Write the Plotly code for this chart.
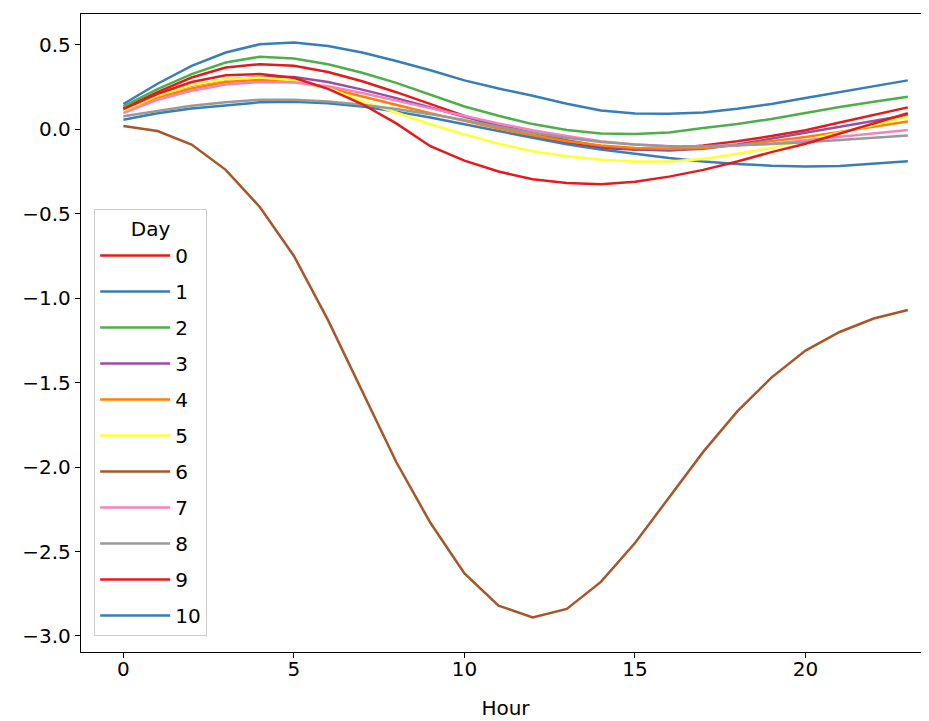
import pandas as pd
import plotly.express as plx

hours = list(range(24))

# mean deviation per hour, one list per day
day_0 = [0.124, 0.22, 0.307, 0.366, 0.386, 0.376, 0.34, 0.285, 0.22, 0.15, 0.08, 0.015,
         -0.04, -0.08, -0.11, -0.12, -0.115, -0.095, -0.07, -0.04, -0.005, 0.04, 0.087, 0.13]
day_1 = [0.057, 0.095, 0.124, 0.144, 0.16, 0.163, 0.155, 0.135, 0.105, 0.07, 0.032, -0.01,
         -0.05, -0.088, -0.12, -0.145, -0.17, -0.19, -0.205, -0.215, -0.22, -0.217, -0.205, -0.189]
day_2 = [0.136, 0.238, 0.327, 0.396, 0.43, 0.42, 0.385, 0.335, 0.275, 0.205, 0.135, 0.08,
         0.031, -0.004, -0.024, -0.028, -0.018, 0.008, 0.032, 0.061, 0.098, 0.132, 0.163, 0.193]
day_3 = [0.115, 0.205, 0.26, 0.295, 0.31, 0.31, 0.28, 0.235, 0.185, 0.13, 0.075, 0.025,
         -0.02, -0.065, -0.1, -0.12, -0.125, -0.115, -0.09, -0.055, -0.02, 0.015, 0.05, 0.085]
day_4 = [0.11, 0.19, 0.242, 0.28, 0.293, 0.285, 0.245, 0.195, 0.145, 0.095, 0.05, 0.005,
         -0.035, -0.07, -0.095, -0.11, -0.115, -0.11, -0.095, -0.072, -0.045, -0.015, 0.017, 0.047]
day_5 = [0.11, 0.2, 0.262, 0.297, 0.307, 0.29, 0.245, 0.165, 0.1, 0.03, -0.03, -0.085,
         -0.13, -0.16, -0.18, -0.19, -0.19, -0.175, -0.145, -0.11, -0.065, -0.02, 0.025, 0.075]
day_6 = [0.02, -0.01, -0.09, -0.24, -0.46, -0.75, -1.13, -1.55, -1.97, -2.33, -2.63, -2.82,
         -2.89, -2.84, -2.68, -2.45, -2.18, -1.91, -1.67, -1.47, -1.31, -1.20, -1.12, -1.07]
day_7 = [0.096, 0.175, 0.228, 0.265, 0.28, 0.278, 0.255, 0.215, 0.17, 0.125, 0.08, 0.035,
         -0.005, -0.04, -0.07, -0.09, -0.1, -0.1, -0.095, -0.085, -0.065, -0.045, -0.025, -0.004]
day_8 = [0.077, 0.11, 0.14, 0.16, 0.175, 0.175, 0.165, 0.145, 0.12, 0.09, 0.055, 0.015,
         -0.02, -0.05, -0.075, -0.09, -0.1, -0.1, -0.095, -0.087, -0.077, -0.065, -0.051, -0.037]
day_9 = [0.12, 0.21, 0.28, 0.32, 0.327, 0.305, 0.24, 0.15, 0.035, -0.1, -0.185, -0.25,
         -0.295, -0.318, -0.325, -0.31, -0.28, -0.24, -0.19, -0.135, -0.085, -0.025, 0.035, 0.095]
day_10 = [0.15, 0.27, 0.376, 0.455, 0.504, 0.514, 0.494, 0.455, 0.405, 0.35, 0.29, 0.242,
          0.199, 0.152, 0.112, 0.094, 0.092, 0.1, 0.122, 0.15, 0.185, 0.22, 0.255, 0.29]

days = [day_0, day_1, day_2, day_3, day_4, day_5, day_6, day_7, day_8, day_9, day_10]

# Set1 palette, wraps round after 9
set1 = ["#e41a1c", "#377eb8", "#4daf4a", "#984ea3", "#ff7f00",
        "#ffff33", "#a65628", "#f781bf", "#999999"]

rows = []
for d, vals in enumerate(days):
    for h, v in zip(hours, vals):
        rows.append({"Hour": h, "value": v, "Day": str(d)})
df = pd.DataFrame(rows)

fig = plx.line(df, x="Hour", y="value", color="Day", color_discrete_sequence=set1)
fig.update_traces(line_width=2.5)

fig.update_layout(
    width=929, height=721,
    margin=dict(l=73, r=7, t=6, b=77),
    plot_bgcolor="white", paper_bgcolor="white",
    font=dict(family="DejaVu Sans", size=20, color="black"),
    legend=dict(
        x=0.0155, y=0.025, xanchor="left", yanchor="bottom",
        bgcolor="rgba(255,255,255,0.8)", bordercolor="#cccccc", borderwidth=1,
        title=dict(text="Day", side="top center", font=dict(size=20)),
        font=dict(size=20),
        itemwidth=70,
        tracegroupgap=7,
    ),
)
fig.update_xaxes(
    range=[-1.243, 23.65], tickvals=[0, 5, 10, 15, 20],
    ticks="outside", ticklen=5, tickcolor="black",
    showline=True, linecolor="black", linewidth=1.3, mirror=True,
    showgrid=False, zeroline=False, automargin=False,
    ticklabelstandoff=-6,
    title=dict(text="Hour", standoff=20, font=dict(size=20)),
)
fig.update_yaxes(
    range=[-3.095, 0.683], tickvals=[0.5, 0, -0.5, -1, -1.5, -2, -2.5, -3],
    tickformat=".1f",
    ticks="outside", ticklen=5, tickcolor="black",
    showline=True, linecolor="black", linewidth=1.3, mirror=True,
    showgrid=False, zeroline=False, automargin=False,
    title=dict(text=""),
)

fig.write_html("out.html")
